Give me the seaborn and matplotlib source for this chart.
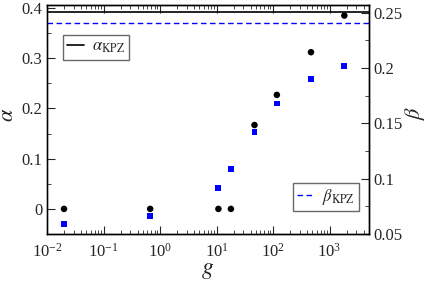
import numpy as np
import pandas as pd
import matplotlib
matplotlib.use("Agg")
import matplotlib.pyplot as plt
from matplotlib.ticker import LogLocator, MultipleLocator, NullFormatter
import seaborn as sns

# dados
g = [0.02, 0.67, 10.8, 18, 47, 117, 470, 1830]
alpha = [0.0, 0.0, 0.0, 0.0, 0.167, 0.227, 0.312, 0.385]
beta = [0.059, 0.066, 0.0915, 0.1087, 0.142, 0.168, 0.190, 0.202]
alpha_kpz = 0.393
beta_kpz = 0.241

df = pd.DataFrame({"g": g, "alpha": alpha, "beta": beta})

sns.set_style("ticks")
plt.rcParams["font.family"] = ["Liberation Serif", "DejaVu Serif"]
plt.rcParams["mathtext.fontset"] = "stix"

fig = plt.figure(figsize=(4.27, 2.83), dpi=100)
ax = fig.add_axes([47 / 427, 1 - 234 / 283, 322 / 427, 229 / 283])
ax2 = ax.twinx()

# alpha (eixo esquerdo)
ax.axhline(alpha_kpz, color="black", lw=1.2, label=r"$\alpha_{\mathrm{KPZ}}$")
sns.scatterplot(data=df, x="g", y="alpha", ax=ax, color="black", marker="o",
                s=22, edgecolor="none", legend=False)

# beta (eixo direito)
ax2.axhline(beta_kpz, color="blue", lw=1.0, ls=(0, (4, 2.5)), label=r"$\beta_{\mathrm{KPZ}}$")
sns.scatterplot(data=df, x="g", y="beta", ax=ax2, color="blue", marker="s",
                s=18, edgecolor="none", legend=False)

ax.set_xscale("log")
ax.set_xlim(0.01, 5000)
ax.set_ylim(-0.05, 0.406)
ax2.set_ylim(0.05, 0.257)

ax.xaxis.set_major_locator(LogLocator(base=10, numticks=10))
ax.xaxis.set_minor_locator(LogLocator(base=10, subs=np.arange(2, 10), numticks=20))
ax.xaxis.set_minor_formatter(NullFormatter())
ax.yaxis.set_minor_locator(MultipleLocator(0.05))
ax2.yaxis.set_minor_locator(MultipleLocator(0.025))

ax.set_yticks([0, 0.1, 0.2, 0.3, 0.4])
ax.set_yticklabels(["0", "0.1", "0.2", "0.3", "0.4"])
ax2.set_yticks([0.05, 0.1, 0.15, 0.2, 0.25])
ax2.set_yticklabels(["0.05", "0.1", "0.15", "0.2", "0.25"])

ax.tick_params(axis="x", which="both", direction="in", top=True, labelsize=12, pad=6)
ax.tick_params(axis="x", which="major", length=6)
ax.tick_params(axis="x", which="minor", length=3)
ax.tick_params(axis="y", which="major", direction="in", length=6, labelsize=12)
ax.tick_params(axis="y", which="minor", direction="in", length=3)
ax2.tick_params(axis="y", which="major", direction="in", length=6, labelsize=12)
ax2.tick_params(axis="y", which="minor", direction="in", length=3)

ax.set_xlabel(r"$g$", fontsize=17, labelpad=0)
ax.set_ylabel(r"$\alpha$", fontsize=16, va="center")
ax2.set_ylabel(r"$\beta$", fontsize=16, va="center")
ax.yaxis.set_label_coords(-0.12, 0.52)
ax2.yaxis.set_label_coords(1.142, 0.53)

for a in (ax, ax2):
    for sp in a.spines.values():
        sp.set_linewidth(1.0)
        sp.set_color("black")
        sp.set_visible(True)
ax.spines["left"].set_color("#555555")

ax.legend(loc="upper left", bbox_to_anchor=(0.05, 0.87), fontsize=12, frameon=True,
          fancybox=False, edgecolor="#444444", handlelength=1.0, handletextpad=0.5,
          borderpad=0.25, borderaxespad=0)
ax2.legend(loc="lower right", bbox_to_anchor=(0.97, 0.1), fontsize=12, frameon=True,
           fancybox=False, edgecolor="#444444", handlelength=1.0, handletextpad=0.5,
           borderpad=0.25, borderaxespad=0)

fig.savefig("out.png", dpi=100)
